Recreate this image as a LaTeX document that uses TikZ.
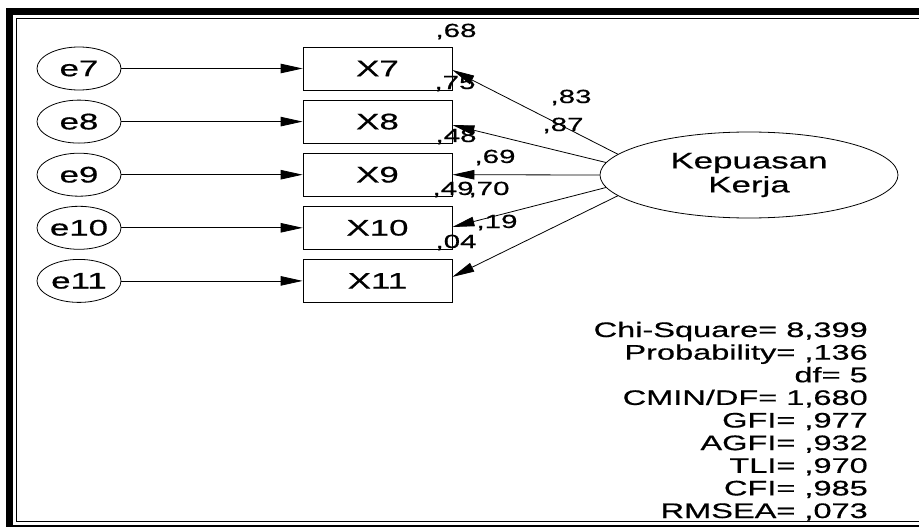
\documentclass[tikz,border=0pt]{standalone}
\usepackage{fontspec}
\newfontfamily\af[FakeStretch=1.55,FakeBold=0.6]{Liberation Sans}
\usetikzlibrary{arrows.meta,shapes.geometric}
\begin{document}
\begin{tikzpicture}[x=1pt,y=-1pt,
  obs/.style={draw,line width=0.8pt,minimum width=149pt,minimum height=43pt,inner sep=0pt,font=\af\fontsize{22.5}{26}\selectfont},
  err/.style={draw,ellipse,line width=0.8pt,minimum width=84pt,minimum height=43pt,inner sep=0pt,font=\af\fontsize{22.5}{26}\selectfont},
  lat/.style={draw,ellipse,line width=0.8pt,minimum width=298pt,minimum height=86pt,inner sep=0pt,align=center,font=\af\fontsize{22.5}{24}\selectfont},
  lbl/.style={inner sep=0pt,anchor=base,font=\af\fontsize{19}{22}\selectfont},
  statline/.style={inner sep=0pt,anchor=base east,font=\af\fontsize{21}{23}\selectfont},
  arr/.style={-{Triangle[length=22pt,width=9.5pt]},line width=0.8pt}
]
\useasboundingbox (0,0) rectangle (919,527);
\clip (0,0) rectangle (919,527);
% frame
\draw[line width=7pt] (9.5,11.5) rectangle (935,528);
\draw[line width=1.5pt] (16.5,18.5) rectangle (935,521.5);

% error terms and observed variables
\node[err] (e7)  at (79,68.5)  {e7};
\node[err] (e8)  at (79,121.6) {e8};
\node[err] (e9)  at (79,174.7) {e9};
\node[err] (e10) at (79,227.8) {e10};
\node[err] (e11) at (79,280.9) {e11};

\node[obs] (X7)  at (377.5,68.5)  {X7};
\node[obs] (X8)  at (377.5,121.6) {X8};
\node[obs] (X9)  at (377.5,174.7) {X9};
\node[obs] (X10) at (377.5,227.8) {X10};
\node[obs] (X11) at (377.5,280.9) {X11};

\node[lat] (K) at (749,175) {Kepuasan\\Kerja};

\foreach \i in {7,8,9,10,11}{
  \draw[arr] (e\i) -- (X\i.west);
}

\draw[arr] (K.171) -- ([yshift=-1.5pt]X7.east);
\draw[arr] (K.175) -- ([yshift=-3.4pt]X8.east);
\draw[arr] (K.west) -- (X9.east);
\draw[arr] (K.185) -- ([yshift=0.8pt]X10.east);
\draw[arr] (K.189) -- ([yshift=4pt]X11.east);

% labels
\node[lbl] (l68) at (456,37) {,68};
\node[lbl] (l75) at (455,89) {,75};
\node[lbl] (l83) at (571,103) {,83};
\node[lbl] (l87) at (563,131) {,87};
\node[lbl] (l48) at (456,142) {,48};
\node[lbl] (l69) at (495,163) {,69};
\node[lbl] (l49) at (453,195) {,49};
\node[lbl] (l70) at (489,195) {,70};
\node[lbl] (l19) at (497,228) {,19};
\node[lbl] (l04) at (456,248) {,04};

% fit statistics
\node[statline] (s1) at (868,337) {Chi-Square= 8,399};
\node[statline] (s2) at (868,359.6) {Probability= ,136};
\node[statline] (s3) at (868,382.2) {df= 5};
\node[statline] (s4) at (868,404.9) {CMIN/DF= 1,680};
\node[statline] (s5) at (868,427.5) {GFI= ,977};
\node[statline] (s6) at (868,450.1) {AGFI= ,932};
\node[statline] (s7) at (868,472.8) {TLI= ,970};
\node[statline] (s8) at (868,495.4) {CFI= ,985};
\node[statline] (s9) at (868,518) {RMSEA= ,073};
\end{tikzpicture}
\end{document}
